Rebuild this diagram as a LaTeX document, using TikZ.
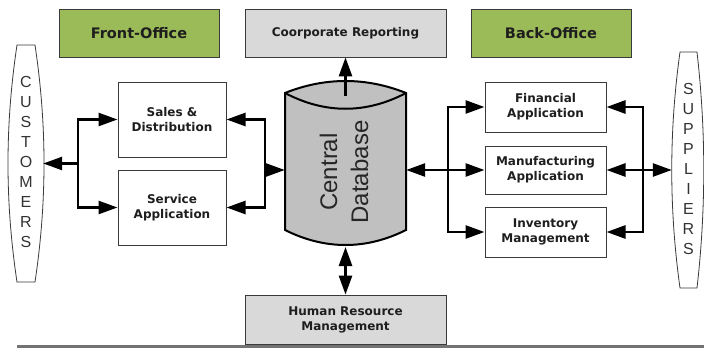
\documentclass[tikz,border=0pt]{standalone}
\usepackage{fontspec}
\setmainfont{Liberation Sans}
\newfontfamily\boxfont{DejaVu Sans}
\usetikzlibrary{arrows.meta}
\definecolor{officegreen}{HTML}{9BBB59}
\definecolor{lightbox}{HTML}{D9D9D9}
\definecolor{dbgray}{HTML}{C0C0C0}
\definecolor{edgegray}{HTML}{3A3A3A}
\definecolor{txt}{HTML}{1E1E1E}
\tikzset{
  appbox/.style={draw=edgegray, line width=1pt, fill=white, inner sep=0pt,
    align=center, text=txt, font=\boxfont\bfseries\fontsize{12}{15}\selectfont},
  officebox/.style={draw=edgegray, line width=0.8pt, fill=officegreen, inner sep=0pt,
    text=txt, font=\boxfont\bfseries\fontsize{14.5}{17}\selectfont},
  graybox/.style={draw=edgegray, line width=0.8pt, fill=lightbox, inner sep=0pt,
    align=center, text=txt, font=\boxfont\bfseries\fontsize{12}{15}\selectfont},
  conn/.style={line width=2.6pt, line join=miter, -{Triangle[length=19pt,width=13pt]}},
  conn2/.style={line width=2.6pt, {Triangle[length=19pt,width=13pt]}-{Triangle[length=19pt,width=13pt]}},
  sideshape/.style={draw=edgegray, line width=0.8pt, fill=white},
  sidetext/.style={align=center, font=\fontsize{16}{20}\selectfont, text=black!80},
}
\begin{document}
\begin{tikzpicture}[x=1pt,y=-1pt]
\useasboundingbox (0,0) rectangle (704,348);

% top boxes
\node[officebox, minimum width=160pt, minimum height=48pt] (front) at (139,33) {Front-Office};
\node[graybox, minimum width=201pt, minimum height=48pt] (rep) at (345.5,33) {Coorporate Reporting};
\node[officebox, minimum width=160pt, minimum height=48pt] (back) at (551,33) {Back-Office};

% customers
\draw[sideshape] (17,45) -- (35,45) .. controls (47,125) and (47,202) .. (35,282)
  -- (17,282) .. controls (5,202) and (5,125) .. (17,45) -- cycle;
\node[inner sep=0pt, minimum width=36pt, minimum height=237pt] (cust) at (25,163.5) {};
\node[sidetext] (custtxt) at (26,162) {C\\U\\S\\T\\O\\M\\E\\R\\S};

% suppliers
\draw[sideshape] (680,52) -- (697,52) .. controls (706,131) and (706,209) .. (697,288)
  -- (680,288) .. controls (669,209) and (669,131) .. (680,52) -- cycle;
\node[inner sep=0pt, minimum width=32pt, minimum height=236pt] (sup) at (688,170) {};
\node[sidetext] (suptxt) at (688.5,169) {S\\U\\P\\P\\L\\I\\E\\R\\S};

% front office apps
\node[appbox, minimum width=108pt, minimum height=75pt] (sales) at (172,119.5) {Sales \&\\Distribution};
\node[appbox, minimum width=108pt, minimum height=75pt] (service) at (172,207.5) {Service\\Application};

% back office apps
\node[appbox, minimum width=121pt, minimum height=50pt] (fin) at (545.5,107) {Financial\\Application};
\node[appbox, minimum width=121pt, minimum height=48pt] (man) at (545.5,170) {Manufacturing\\Application};
\node[appbox, minimum width=121pt, minimum height=50pt] (inv) at (545.5,232) {Inventory\\Management};

% human resource
\node[graybox, minimum width=201pt, minimum height=49pt] (hr) at (345.5,319.5) {Human Resource\\Management};

% central database cylinder
\draw[draw=black, line width=2pt, fill=dbgray]
  (285,93) -- (285,230) .. controls (325,250) and (366,250) .. (406,230)
  -- (406,93) .. controls (366,77) and (325,77) .. (285,93) -- cycle;
\draw[black, line width=2pt] (285,93) .. controls (325,114) and (366,114) .. (406,93);
\node[inner sep=0pt, minimum width=121pt, minimum height=154pt] (db) at (345.5,170) {};
\node[rotate=90, align=center, font=\fontsize{24}{31}\selectfont, text=black!85] (dbtxt) at (344,172) {Central\\Database};

% connector junctions
\coordinate (jl) at (78,163.5);
\coordinate (jr) at (265,170);
\coordinate (jb) at (448,170);
\coordinate (js) at (643,170);
\coordinate (dbtop) at (345.5,96);
\coordinate (dbbot) at (345.5,247);

% connectors
\draw[conn] (jl) -- (cust.east);
\draw[conn] (jl) |- (sales.west);
\draw[conn] (jl) |- (service.west);
\draw[conn] (jr) |- (sales.east);
\draw[conn] (jr) |- (service.east);
\draw[conn] (jr) -- (db.west);
\draw[conn] (dbtop) -- (rep.south);
\draw[conn2] (dbbot) -- (hr.north);
\draw[conn2] (db.east) -- (man.west);
\draw[conn] (jb) |- (fin.west);
\draw[conn] (jb) |- (inv.west);
\draw[conn] (js) |- (fin.east);
\draw[conn] (js) |- (inv.east);
\draw[conn2] (man.east) -- (sup.west);

% bottom rule
\coordinate (ruleL) at (17,346.5);
\coordinate (ruleR) at (704,346.5);
\draw[black!55, line width=2.5pt] (ruleL) -- (ruleR);
\end{tikzpicture}
\end{document}
